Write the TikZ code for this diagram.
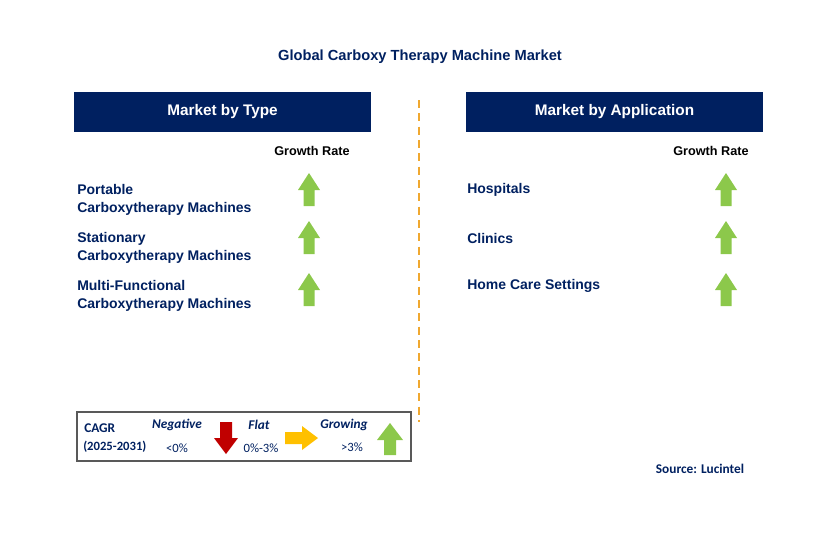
\documentclass[tikz,border=0pt]{standalone}
\usepackage{fontspec}
\setmainfont{Liberation Sans}
\newfontfamily\carl{Carlito}
\begin{document}
\begin{tikzpicture}[x=0.75pt,y=-0.75pt,
  txt/.style={text=navy,font=\bfseries\fontsize{10.5}{13}\selectfont,align=left,anchor=west,inner sep=0},
  hdr/.style={fill=navy,text=white,font=\bfseries\fontsize{11.5}{13}\selectfont,minimum width=297*0.75pt,minimum height=40*0.75pt,inner sep=0},
  gr/.style={text=black,font=\bfseries\fontsize{9.5}{11}\selectfont,inner sep=0},
  leg/.style={text=navy,font=\carl\fontsize{9.5}{11}\selectfont,inner sep=0}]
\definecolor{navy}{HTML}{002060}
\definecolor{agreen}{HTML}{8CC84B}
\definecolor{ared}{HTML}{C00000}
\definecolor{ayel}{HTML}{FFC000}
\definecolor{dashorange}{HTML}{F0A830}
\newcommand{\uparr}[2]{\fill[agreen] (#1-5.5,#2+16) -- (#1-5.5,#2) -- (#1-11,#2) -- (#1,#2-17) -- (#1+11,#2) -- (#1+5.5,#2) -- (#1+5.5,#2+16) -- cycle;}
\useasboundingbox (0,0) rectangle (829,533);
\node[text=navy,font=\bfseries\fontsize{11}{13}\selectfont] (title) at (420,57) {Global Carboxy Therapy Machine Market};
\node[hdr] (h1) at (222.5,112) {Market by Type};
\node[hdr] (h2) at (614.5,112) {Market by Application};
\draw[dashorange,line width=1.2pt,dash pattern=on 6pt off 4pt] (419,100) -- (419,422);
\node[gr] (g1) at (312,151) {Growth Rate};
\node[gr] (g2) at (711,151) {Growth Rate};
\node[txt] (t1) at (77,200) {Portable\\Carboxytherapy Machines};
\node[txt] (t2) at (77,248) {Stationary\\Carboxytherapy Machines};
\node[txt] (t3) at (77,296) {Multi-Functional\\Carboxytherapy Machines};
\node[txt] (a1) at (467,190) {Hospitals};
\node[txt] (a2) at (467,238) {Clinics};
\node[txt] (a3) at (467,286) {Home Care Settings};
\uparr{309}{190}\uparr{309}{238}\uparr{309}{290}
\uparr{726}{190}\uparr{726}{238}\uparr{726}{290}
\draw[gray!70!black,line width=0.8pt] (77,412) rectangle (411,461);
\node[leg,font=\carl\bfseries\fontsize{10}{12}\selectfont,anchor=west] (c1) at (84,428) {CAGR};
\node[leg,font=\carl\bfseries\fontsize{9.5}{12}\selectfont,anchor=west] (c2) at (83,447) {(2025-2031)};
\node[leg,font=\carl\bfseries\itshape\fontsize{10}{12}\selectfont] (n1) at (177,425) {Negative};
\node[leg] (n2) at (177,448) {<0\%};
\node[leg,font=\carl\bfseries\itshape\fontsize{10}{12}\selectfont] (f1) at (259,425) {Flat};
\node[leg] (f2) at (261,448) {0\%-3\%};
\node[leg,font=\carl\bfseries\itshape\fontsize{10}{12}\selectfont] (r1) at (344,425) {Growing};
\node[leg] (r2) at (352,447) {>3\%};
\fill[ared] (220,422) -- (232,422) -- (232,438) -- (238,438) -- (226,454) -- (214,438) -- (220,438) -- cycle;
\fill[ayel] (285,432) -- (302,432) -- (302,426) -- (318,438) -- (302,450) -- (302,444) -- (285,444) -- cycle;
\fill[agreen] (384,455) -- (384,440) -- (377,440) -- (390,423) -- (403,440) -- (396,440) -- (396,455) -- cycle;
\node[font=\carl\bfseries\fontsize{10}{12}\selectfont,text=navy] (src) at (700,469) {Source: Lucintel};
\end{tikzpicture}
\end{document}
